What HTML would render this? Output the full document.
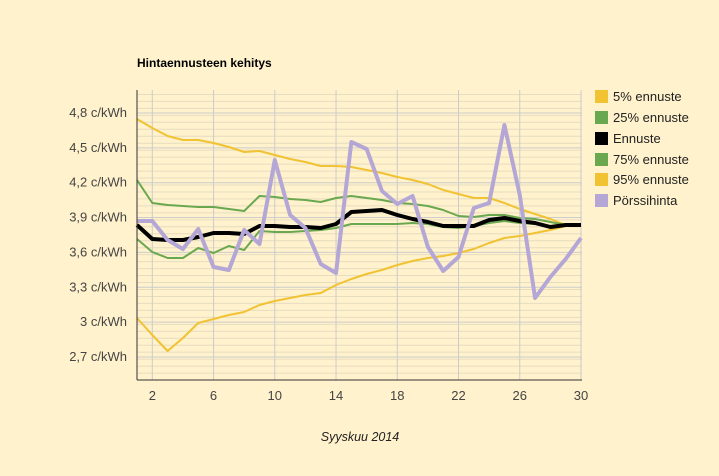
<!DOCTYPE html><html><head><style>body{margin:0;background:#fff2cc}</style></head><body>
<svg width="719" height="471" xmlns="http://www.w3.org/2000/svg" font-family="Liberation Sans, sans-serif">
<rect width="719" height="471" fill="#fff2cc"/>
<text x="137" y="67" font-size="12" font-weight="bold" fill="#000">Hintaennusteen kehitys</text>
<g id="grid"></g>
<g font-size="13" fill="#444" text-anchor="end" id="yl"></g>
<g font-size="13" fill="#444" text-anchor="middle" id="xl"></g>
<g fill="none" stroke-linejoin="round" id="series"></g>
<line x1="137" y1="90" x2="137" y2="380" stroke="#333"/>
<line x1="137" y1="380" x2="582" y2="380" stroke="#333"/>
<text x="360" y="441" font-size="12.5" font-style="italic" fill="#222" text-anchor="middle">Syyskuu 2014</text>
<g font-size="13" fill="#222">
<rect x="595" y="90" width="13" height="13" fill="#f1c232"/><text x="613" y="101">5% ennuste</text>
<rect x="595" y="111" width="13" height="13" fill="#6aa84f"/><text x="613" y="122">25% ennuste</text>
<rect x="595" y="132" width="13" height="13" fill="#000"/><text x="613" y="143">Ennuste</text>
<rect x="595" y="153" width="13" height="13" fill="#6aa84f"/><text x="613" y="164">75% ennuste</text>
<rect x="595" y="173" width="13" height="13" fill="#f1c232"/><text x="613" y="184">95% ennuste</text>
<rect x="595" y="194" width="13" height="13" fill="#b4a7d6"/><text x="613" y="205">Pörssihinta</text>
</g>
</svg>
<script>
var ns="http://www.w3.org/2000/svg";
function el(p,t,a,txt){var e=document.createElementNS(ns,t);for(var k in a)e.setAttribute(k,a[k]);if(txt)e.textContent=txt;document.getElementById(p).appendChild(e);}
var y0=322,py=116.1;
for(var v=2.5;v<=5.0001;v+=0.06){var y=y0-(v-3)*py;el("grid","line",{x1:137,x2:582,y1:y,y2:y,stroke:"#e6dcc0","stroke-width":1});}
var labs=["4,8","4,5","4,2","3,9","3,6","3,3","3","2,7"];
for(var i=0;i<8;i++){var y=113+i*34.85;el("grid","line",{x1:137,x2:582,y1:y,y2:y,stroke:"#cccccc"});el("yl","text",{x:127,y:y+4},labs[i]+" c/kWh");}
function X(d){return 137+(d-1)*15.31;}
for(var d=2;d<=30;d+=4){el("grid","line",{x1:X(d),x2:X(d),y1:90,y2:380,stroke:"#cccccc"});el("xl","text",{x:X(d),y:400},String(d));}
function S(ys,c,w){var p=ys.map(function(y,i){return X(i+1)+","+y}).join(" ");el("series","polyline",{points:p,stroke:c,"stroke-width":w});}
S([318,335,351,338,323,319,315,312,305,301,298,295,293,285,279,274,270,265,261,258,256,253,249,243,238,236,233,230,226,226],"#f1c232",2);
S([119,128,136,140,140,143,147,152,151,155,159,162,166,166,167,170,173,177,180,184,190,194,198,198,203,209,214,219,225,225],"#f1c232",2);
S([180,203,205,206,207,207,209,211,196,197,199,200,202,198,196,198,200,203,204,206,210,216,217,215,215,218,219,222,225,225],"#6aa84f",2);
S([239,252,258,258,248,253,246,250,231,232,232,231,230,228,224,224,224,224,223,224,227,228,226,223,221,223,224,226,225,225],"#6aa84f",2);
S([225,239,240,240,237,233,233,234,226,226,227,227,228,224,212,211,210,215,219,222,226,226,226,220,218,221,223,227,225,225],"#000",4);
S([221,221,240,249,229,267,270,230,244,160,215,228,264,273,142,149,191,204,196,247,271,257,208,203,125,195,298,277,259,238],"#b4a7d6",4);
</script>
</body></html>
